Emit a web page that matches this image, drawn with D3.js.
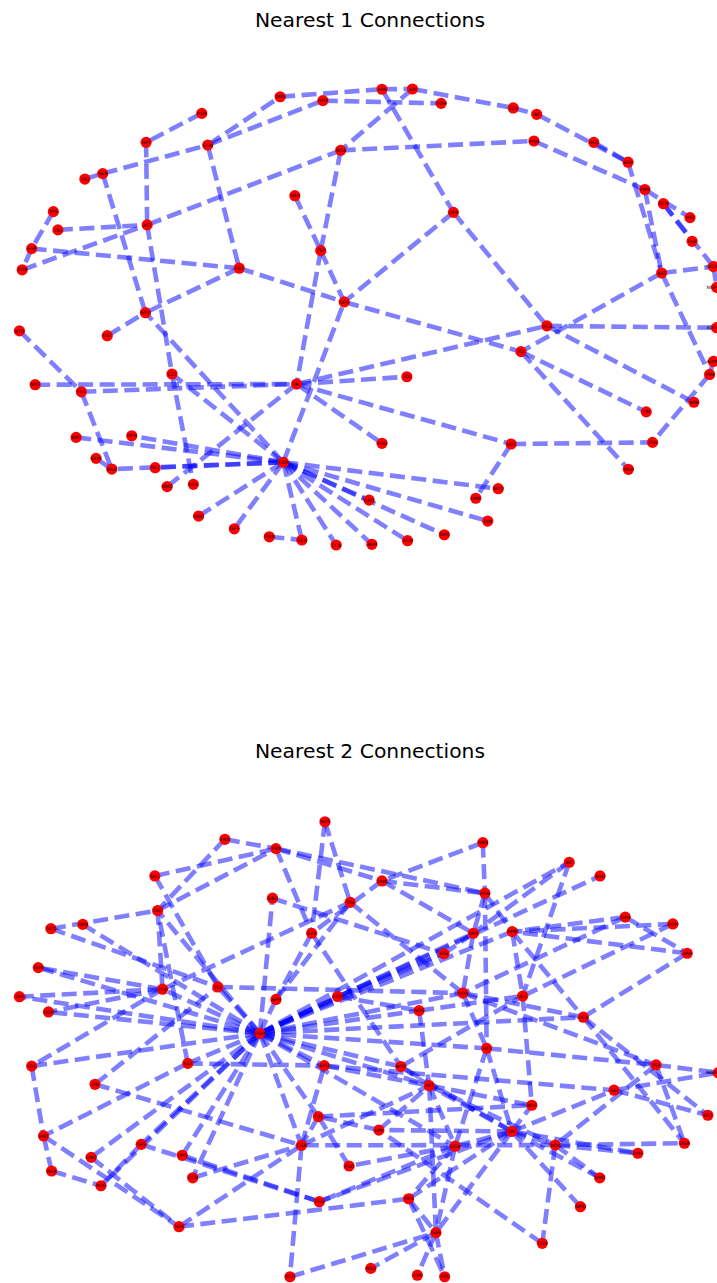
<!DOCTYPE html>
<html>
<head>
<meta charset="utf-8">
<script src="https://cdn.jsdelivr.net/npm/d3@7"></script>
<style>
  html, body { margin: 0; padding: 0; background: #fff; }
  svg { display: block; }
</style>
</head>
<body>
<script>
// ---- Panel 1: nearest 1 connections (layout coordinates in [-1, 1]) ----
const labels1 = ["DNN","HMP","DDR","NPT","EGN","NOA","GSI","NER","NSD","PFS","AST","OEI","ESP","TSP","CGB","FGT","GFO","NOD",
  "ARR","ADI","DOM","EZX","IBC","PQN","NGC","EGP","FNN","GCN","HGI","FVP","BAT","GCO","DFR","NGP","OCA","TCL","TDL","ADM",
  "FSN","NPA","FIN","PGD","NOC","CFN","OGP","NOO","DMF","GRO","DIN","OPQ","ACM","AFM","ADG","NTD","GST","CZT","NMT","TPL",
  "FUL","KMT","DPN","GUN","NGO","NCL","FGM","NMQ","NDF","DMQ","GFS","OGN","DCN","CCN"];
const xs1 = [-0.251,-0.129,-0.475,-0.634,-0.458,-0.078,-0.809,-0.758,-0.209,-0.899,-0.631,-0.886,-0.961,-0.135,-0.988,-0.368,-0.068,-0.636,
  0.040,0.127,0.209,0.415,0.482,0.474,0.645,0.743,0.791,0.844,0.920,0.926,0.839,0.987,0.244,0.996,0.511,0.437,0.111,0.987,
  0.976,0.931,0.795,0.040,0.409,0.813,0.744,0.372,0.308,0.003,0.342,0.218,0.113,0.011,0.996,-0.996,-0.745,-0.560,-0.951,-0.204,
  -0.819,-0.834,-0.675,-0.777,-0.732,-0.608,-0.242,-0.574,-0.499,-0.484,-0.382,-0.282,-0.189,-0.091];
const ys1 = [0.966,0.949,0.893,0.766,0.754,0.731,0.605,0.629,0.532,0.462,0.404,0.382,0.300,0.291,0.207,0.214,0.066,0.019,
  0.999,1.000,0.937,0.917,0.889,0.772,0.766,0.679,0.559,0.497,0.436,0.332,0.193,0.221,0.459,0.130,-0.039,-0.152,-0.262,-0.195,
  -0.252,-0.374,-0.416,-0.554,-0.557,-0.550,-0.668,-0.753,-0.795,-0.803,-0.895,-0.955,-0.981,-0.997,-0.047,-0.061,-0.082,-0.250,-0.297,-0.294,
  -0.328,-0.528,-0.521,-0.620,-0.667,-0.661,-0.637,-0.744,-0.734,-0.873,-0.929,-0.964,-0.978,-1.000];
const edges1 = [
  ["DDR","NPT"],["NPT","AST"],["NER","EGN"],["EGN","DNN"],["EGN","HMP"],["EGN","FGT"],["GSI","NER"],
  ["PFS","ESP"],["ESP","CGB"],["OEI","AST"],["CGB","AST"],["AST","NOA"],["ESP","FGT"],["FGT","GFO"],
  ["NER","NOD"],["AST","CZT"],["CZT","NDF"],["FGT","NOD"],["NSD","TSP"],["NOA","TSP"],["TSP","TPL"],
  ["TSP","GFO"],["GFO","TCL"],["DFR","GFO"],["DNN","ARR"],["ARR","ADI"],["HMP","DOM"],["ARR","DFR"],["DFR","OCA"],
  ["ADI","NOA"],["ADI","EZX"],["EZX","IBC"],["IBC","EGP"],["NGC","EGP"],["NOA","PQN"],["PQN","FNN"],
  ["FNN","HGI"],["GCN","FVP"],["GCN","GCO"],["GCO","NGP"],["EGP","BAT"],["FNN","BAT"],["BAT","GCO"],["BAT","FSN"],
  ["BAT","TCL"],["FSN","ADM"],["FSN","CFN"],["OCA","NPA"],["OCA","ADG"],["TPL","OCA"],["TPL","TDL"],["TPL","NOC"],
  ["TPL","PGD"],["TCL","FIN"],["TCL","OGP"],["NOC","CFN"],["NOC","DMF"],["GST","NOD"],["NTD","FUL"],["NMT","TPL"],
  ["FUL","TPL"],["FUL","NGO"],["GUN","NGO"],["NMQ","TPL"],["OGN","DCN"],
  ["FGM","GFO"],["FGM","NOD"],["FGM","NGO"],["FGM","CZT"],["FGM","KMT"],["FGM","DPN"],["FGM","NCL"],["FGM","DMQ"],
  ["FGM","GFS"],["FGM","DCN"],["FGM","CCN"],["FGM","NOO"],["FGM","DIN"],["FGM","GRO"],["FGM","OPQ"],["FGM","ACM"],["FGM","AFM"]
];

// ---- Panel 2: nearest 2 connections ----
const labels2 = ["NOS","FNN","FSN","NCL","GBO","OSI","DAT","DPN","GCO","EZX","GUN","FOP","TCL","AFM","ACM","DIN","DGP","FGM",
  "NRN","IBC","NSD","DNN","PGN","GPH","DOM","GFO","HMP","HGI","ARR","OOA","ADI","NQS","DCN",
  "FGC","EZZ","EAD","FIN","TDL","PMT","GFS","CGB","DMQ","DPQ","PGO","NER","CCN","NOD","FGO","NDF","NTD",
  "FDT","NOO","TSP","AST","GEI","NGD","NOC","GST","NPP","TPL","GCN","NOA","OGR","DMF","NMQ","NMD","OFN","GAS","CGR","NGO","FVP","PFS"];
const xs2 = [-0.123,-0.409,-0.263,-0.609,-0.273,-0.051,-0.601,-0.815,-0.906,-0.161,-0.942,-0.587,-0.429,-0.263,-0.087,-0.996,-0.913,-0.309,
  0.328,0.575,0.663,0.040,0.334,0.735,0.871,0.301,0.412,0.217,0.912,0.271,0.442,0.146,0.615,
  -0.961,-0.515,-0.125,-0.780,-0.142,-0.927,-0.648,-0.190,-0.791,-0.531,-0.054,-0.904,-0.501,-0.763,-0.139,-0.540,-0.223,
  0.339,0.094,0.823,0.175,0.703,1.001,0.468,0.971,0.031,0.411,0.249,0.535,0.904,0.771,0.662,0.607,0.116,0.194,0.498,0.008,0.141,0.219];
const ys2 = [1.001,0.924,0.883,0.763,0.665,0.647,0.611,0.550,0.531,0.511,0.360,0.265,0.275,0.220,0.233,0.232,0.165,0.071,
  0.909,0.823,0.763,0.741,0.687,0.582,0.552,0.511,0.518,0.421,0.423,0.248,0.235,0.171,0.142,
  -0.073,-0.061,-0.071,-0.153,-0.295,-0.380,-0.417,-0.421,-0.474,-0.465,-0.512,-0.534,-0.564,-0.599,-0.669,-0.779,-0.999,
  0.005,-0.075,-0.068,-0.159,-0.179,-0.102,-0.245,-0.289,-0.354,-0.360,-0.425,-0.420,-0.412,-0.456,-0.564,-0.691,-0.656,-0.805,-0.852,-0.962,-0.992,-0.999];
const edges2 = [
  ["NOS","OSI"],["NOS","EZX"],["FNN","FSN"],["FNN","DAT"],["NCL","FSN"],["DAT","FSN"],["FSN","DNN"],["FSN","PGN"],["FSN","EZX"],
  ["NCL","TCL"],["GBO","HGI"],["FOP","OSI"],["OSI","AFM"],["EZX","AFM"],["OSI","OOA"],["GCO","DAT"],["GCO","TCL"],
  ["FOP","DAT"],["FOP","GUN"],["FOP","DIN"],["FOP","DGP"],["FOP","FGC"],["TCL","OOA"],["DNN","EZX"],
  ["NRN","DNN"],["NRN","PGN"],["IBC","GFO"],["IBC","ADI"],["DNN","PGN"],["DNN","GFO"],["PGN","GFO"],["PGN","FDT"],["PGN","HMP"],
  ["GPH","HMP"],["GPH","ARR"],["GPH","OOA"],["DOM","HMP"],["DOM","ADI"],["ARR","HMP"],["ARR","DCN"],["HMP","DCN"],["HMP","ADI"],
  ["GFO","HGI"],["GFO","OOA"],["OOA","DCN"],["OOA","FDT"],["OOA","TSP"],["ADI","NOC"],["NQS","ADI"],["ACM","NQS"],["ACM","HGI"],["NQS","AST"],
  ["FGC","PMT"],["EZZ","DAT"],["EZZ","PMT"],["EZZ","EAD"],["FIN","TCL"],["FIN","CGB"],["PMT","NER"],["PMT","NDF"],["GFS","NOD"],["GFS","FGO"],
  ["DMQ","NDF"],["DPQ","FGO"],["CCN","CGB"],["NER","NOD"],["NDF","OFN"],["NDF","CGB"],["CGB","EAD"],["CGB","NTD"],["CGB","AST"],
  ["TDL","PGO"],["TDL","NOC"],["NPP","TDL"],["TDL","CGB"],["NTD","GAS"],["EAD","NOC"],["EAD","GEI"],
  ["FDT","GCN"],["FDT","TPL"],["FDT","TSP"],["NOO","AST"],["EZX","NOO"],["NOO","ADI"],["NPP","AST"],
  ["TPL","NOO"],["TPL","AST"],["AST","GCN"],["AST","NOA"],["AST","GAS"],["TSP","NOA"],["TSP","NGD"],["TSP","OGR"],["GEI","GST"],["GEI","NGD"],
  ["TPL","GEI"],["TPL","NOC"],["TPL","NOA"],["TPL","NMQ"],["TPL","DMF"],["TPL","NMD"],["TPL","FGO"],["TPL","NPP"],["TPL","GCN"],["TPL","GAS"],["TPL","OFN"],
  ["NOA","CGR"],["NOA","CGB"],["NOA","OGR"],["NOA","DMF"],["NOA","NMQ"],["GCN","GAS"],["GCN","OFN"],["GCN","PGO"],["GCN","FGO"],
  ["GAS","FVP"],["GAS","NGO"],["GAS","PFS"],["OFN","PFS"],["OFN","GAS"],["CGR","NPP"],["DCN","GST"],["DCN","OGR"],
  ["FGM","GBO"],["FGM","DPN"],["FGM","DAT"],["FGM","GUN"],["FGM","DIN"],["FGM","DGP"],["FGM","FOP"],["FGM","TCL"],["FGM","NSD"],
  ["FGM","GFO"],["FGM","HMP"],["FGM","HGI"],["FGM","IBC"],["FGM","DCN"],["FGM","FGC"],["FGM","EZZ"],["FGM","GFS"],["FGM","DMQ"],
  ["FGM","DPQ"],["FGM","CCN"],["FGM","NOD"],["FGM","CGB"],["FGM","TDL"],["FGM","AFM"],["FGM","ACM"],["FGM","OOA"],["FGM","NOO"],
  ["FGM","AST"],["FGM","GCN"],["FGM","FDT"],["FGM","NQS"],["FGM","EAD"]
];

const titles = ["Nearest 1 Connections", "Nearest 2 Connections"];

const W = 717, H = 1283;
const svg = d3.select("body").append("svg")
  .attr("width", W).attr("height", H)
  .attr("viewBox", `0 0 ${W} ${H}`);

function drawPanel(labels, xs, ys, edges, title, box) {
  const x = d3.scaleLinear().domain([-1, 1]).range([box.left, box.right]);
  const y = d3.scaleLinear().domain([-1, 1]).range([box.bottom, box.top]);
  const nodes = labels.map((id, i) => ({ id, x: xs[i], y: ys[i] }));
  const byId = new Map(nodes.map(n => [n.id, n]));
  const links = edges.map(([s, t]) => ({ source: byId.get(s), target: byId.get(t) }))
    .filter(l => l.source && l.target);

  const g = svg.append("g");

  g.append("text")
    .attr("x", box.titleX).attr("y", box.titleY)
    .attr("text-anchor", "middle")
    .attr("font-family", "DejaVu Sans, sans-serif")
    .attr("font-size", 20.3)
    .attr("fill", "#000")
    .text(title);

  // dashed edges, semi-transparent so overlaps darken
  g.append("g").selectAll("line").data(links).join("line")
    .attr("x1", d => x(d.source.x)).attr("y1", d => y(d.source.y))
    .attr("x2", d => x(d.target.x)).attr("y2", d => y(d.target.y))
    .attr("stroke", "#0000ff")
    .attr("stroke-opacity", 0.5)
    .attr("stroke-width", 4.6)
    .attr("stroke-dasharray", "15,6.5");

  const nodeG = g.append("g").selectAll("g").data(nodes).join("g")
    .attr("transform", d => `translate(${x(d.x)},${y(d.y)})`);
  nodeG.append("circle").attr("r", 5.6).attr("fill", "#ff0000");

  // node labels; those at the right border are nudged inward so they stay visible
  const labelHalf = 4.5;
  nodeG.append("text")
    .attr("x", d => Math.min(0, (W - 1 - labelHalf) - x(d.x)))
    .attr("text-anchor", "middle")
    .attr("dy", "0.35em")
    .attr("font-family", "DejaVu Sans, sans-serif")
    .attr("font-size", 4.6)
    .attr("fill", "#000")
    .text(d => d.id);
}

drawPanel(labels1, xs1, ys1, edges1, titles[0],
  { left: 18, right: 718, top: 89, bottom: 545, titleX: 370, titleY: 27 });
drawPanel(labels2, xs2, ys2, edges2, titles[1],
  { left: 18, right: 718, top: 822, bottom: 1277, titleX: 370, titleY: 758 });
</script>
</body>
</html>
